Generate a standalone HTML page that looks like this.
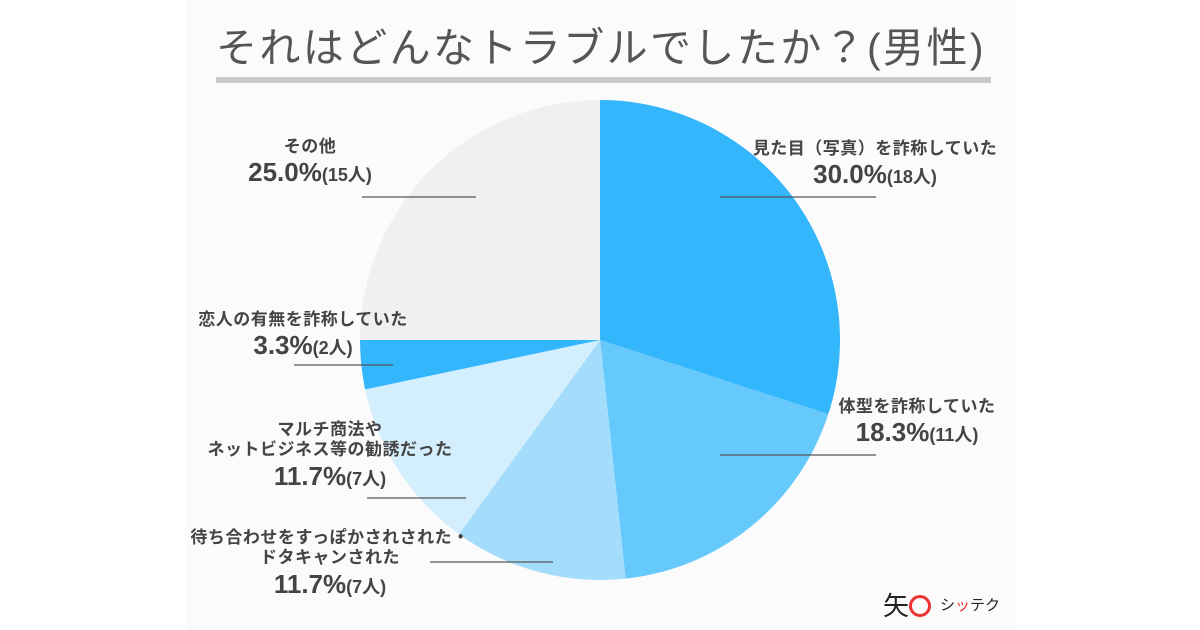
<!DOCTYPE html>
<html><head><meta charset="utf-8">
<style>
body{margin:0;width:1200px;height:630px;background:#fff;position:relative;overflow:hidden;font-family:"Liberation Sans","Noto Sans CJK JP",sans-serif;color:#444}
#panel{position:absolute;left:186px;top:0;width:829px;height:630px;background:#fbfbfb}
#title{position:absolute;left:216px;top:14px;font-size:41px;color:#555;letter-spacing:2.4px;white-space:nowrap}
#rule{position:absolute;left:216px;top:77px;width:775px;height:6px;background:#c9c9c9}
.lab{position:absolute;text-align:center;font-weight:bold;white-space:nowrap;transform:translateX(-50%);line-height:1.2}
.lab .t{font-size:17px;letter-spacing:0.5px}
.lab .p{font-size:26px}
.lab .p small{font-size:18px}
svg{position:absolute;left:0;top:0}
</style></head><body>
<div id="panel"></div>
<div id="title">それはどんなトラブルでしたか？(男性)</div>
<div id="rule"></div>
<svg id="pie" width="1200" height="630"></svg>
<div class="lab" style="left:875px;top:139px"><div class="t">見た目（写真）を詐称していた</div><div class="p">30.0%<small>(18人)</small></div></div>
<div class="lab" style="left:917px;top:397px"><div class="t">体型を詐称していた</div><div class="p">18.3%<small>(11人)</small></div></div>
<div class="lab" style="left:330px;top:528px"><div class="t">待ち合わせをすっぽかされされた・<br>ドタキャンされた</div><div class="p">11.7%<small>(7人)</small></div></div>
<div class="lab" style="left:330px;top:420px"><div class="t">マルチ商法や<br>ネットビジネス等の勧誘だった</div><div class="p">11.7%<small>(7人)</small></div></div>
<div class="lab" style="left:303px;top:310px"><div class="t">恋人の有無を詐称していた</div><div class="p">3.3%<small>(2人)</small></div></div>
<div class="lab" style="left:310px;top:137px"><div class="t">その他</div><div class="p">25.0%<small>(15人)</small></div></div>
<div style="position:absolute;left:883px;top:586px;font-size:26px;color:#222">矢<span style="display:inline-block;width:16px;height:16px;border:3px solid #e33;border-radius:50%;vertical-align:-2px"></span></div>
<div style="position:absolute;left:940px;top:594px;font-size:15px;color:#222">シ<span style="color:#e33">ッ</span>テク</div>
<script>
const categories=["見た目（写真）を詐称していた","体型を詐称していた","待ち合わせをすっぽかされた・ドタキャンされた","マルチ商法やネットビジネス等の勧誘だった","恋人の有無を詐称していた","その他"];
const values=[30.0,18.3,11.7,11.7,3.3,25.0];
const colors=["#33b6fc","#66c9fc","#a4ddfb","#d3eefc","#33b6fc","#f0f0f2"];
const leaders=[[720,197,876,197],[720,455,876,455],[430,562,553,562],[367,498,466,498],[294,365,393,365],[362,197,476,197]];
const svg=document.getElementById('pie');
const NS='http://www.w3.org/2000/svg';
const cx=600,cy=340,r=240;
const total=values.reduce((a,b)=>a+b,0);
let a0=0;
values.forEach((v,i)=>{
  const a1=a0+v/total*2*Math.PI;
  const x0=cx+r*Math.sin(a0),y0=cy-r*Math.cos(a0),x1=cx+r*Math.sin(a1),y1=cy-r*Math.cos(a1);
  const p=document.createElementNS(NS,'path');
  p.setAttribute('d',`M${cx},${cy}L${x0},${y0}A${r},${r} 0 ${a1-a0>Math.PI?1:0} 1 ${x1},${y1}Z`);
  p.setAttribute('fill',colors[i]);
  
  
  svg.appendChild(p);
  a0=a1;
});
leaders.forEach((l,i)=>{
  const ln=document.createElementNS(NS,'line');
  ln.setAttribute('x1',l[0]);ln.setAttribute('y1',l[1]);ln.setAttribute('x2',l[2]);ln.setAttribute('y2',l[3]);
  ln.setAttribute('stroke','#555');ln.setAttribute('stroke-width','1.3');
  
  
  svg.appendChild(ln);
});
</script>
</body></html>
